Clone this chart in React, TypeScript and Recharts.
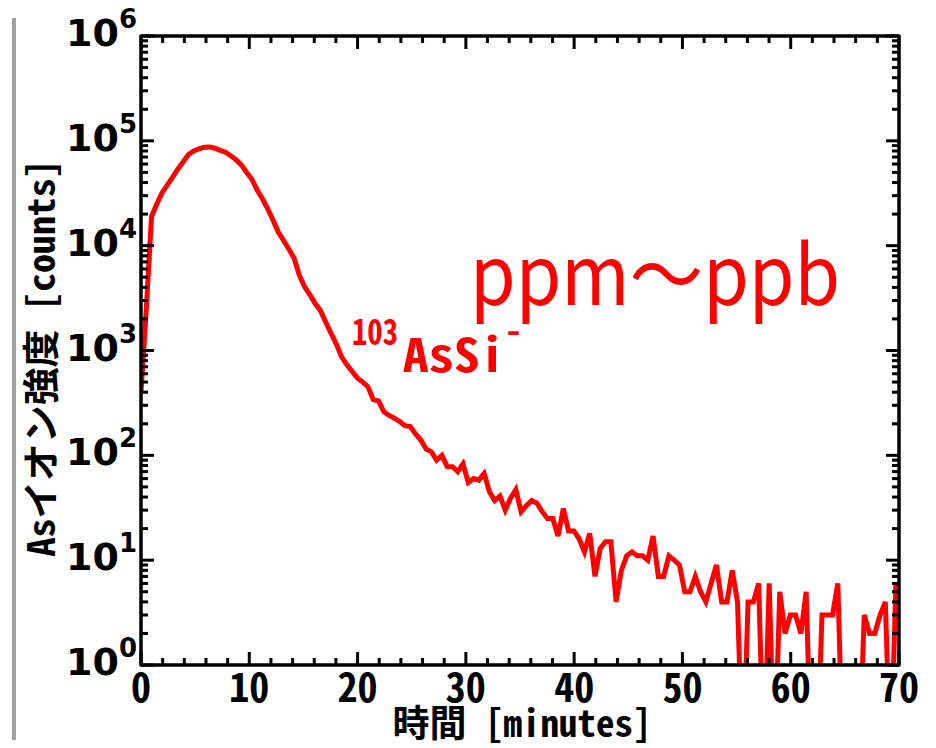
import React from 'react';
import { LineChart, Line, XAxis, YAxis } from 'recharts';

// sampling interval of the detector, in minutes
const STEP_MIN = 0.4875;

// 103AsSi- counts per sample (0 = no counts)
const counts = [
  400, 2500, 19000, 25000, 32000, 38000, 45000, 54000, 63000, 74000,
  80000, 84000, 87000, 87500, 85000, 81000, 78000, 72000, 66000, 59000,
  50000, 43000, 34000, 28000, 22400, 17600, 13500, 11200, 9300, 7600,
  5200, 4050, 3400, 2800, 2400, 1860, 1460, 1150, 870, 730,
  630, 545, 500, 450, 340, 330, 260, 240, 226, 210,
  192, 188, 160, 140, 115, 108, 90, 100, 78, 78,
  70, 83, 55, 60, 58, 67, 45, 37, 41, 30,
  39, 47, 29, 33, 37, 35, 29, 25, 25, 17,
  31, 19, 19, 16, 12, 18, 7, 13, 15, 15,
  4, 8, 11, 12, 11, 11, 10, 17, 7, 7,
  11, 10, 9, 5, 5, 7, 5, 4, 6, 9,
  4, 4, 8, 4, 0, 4, 4, 6, 0, 6,
  0, 5, 2, 3, 3, 2, 5, 0, 0, 3,
  3, 3, 6, 0, 0, 0, 0, 3, 2, 2,
  3, 4, 0, 6,
];

const xTicks = [0, 2, 4, 6, 8, 10, 12, 14, 16, 18, 20, 22, 24, 26, 28, 30, 32, 34, 36, 38, 40, 42, 44, 46, 48, 50, 52, 54, 56, 58, 60, 62, 64, 66, 68, 70];
const xLabels = [0, 10, 20, 30, 40, 50, 60, 70];
const yTicks = [
  1, 2, 3, 4, 5, 6, 7, 8, 9,
  10, 20, 30, 40, 50, 60, 70, 80, 90,
  100, 200, 300, 400, 500, 600, 700, 800, 900,
  1000, 2000, 3000, 4000, 5000, 6000, 7000, 8000, 9000,
  10000, 20000, 30000, 40000, 50000, 60000, 70000, 80000, 90000,
  100000, 200000, 300000, 400000, 500000, 600000, 700000, 800000, 900000,
  1000000,
];
const yDecades = [1, 10, 100, 1000, 10000, 100000, 1000000];

// log axis can't show 0, so zero counts drop below the frame and get clipped
const data = counts.map((c, i) => ({ t: i * STEP_MIN, c: c > 0 ? c : 0.1 }));

const MONO = '"Noto Sans Mono CJK JP", "DejaVu Sans Mono", "Noto Sans CJK JP", monospace';
const BIG = 13;
const SMALL = 7;

// plot frame in page pixels
const LEFT = 141;
const RIGHT = 899;
const TOP = 36;
const BOTTOM = 665;

const BottomTick = (props: any) => {
  const { x, payload } = props;
  const v = payload.value;
  const major = xLabels.includes(v);
  return (
    <g>
      <line x1={x} x2={x} y1={BOTTOM} y2={BOTTOM - (major ? BIG : SMALL)} stroke="#000" strokeWidth={3} />
      {major && (
        <text x={x} y={BOTTOM + 37} textAnchor="middle" fontFamily={MONO} fontWeight="bold" fontSize={40} fill="#000">
          {v}
        </text>
      )}
    </g>
  );
};

const TopTick = (props: any) => {
  const { x, payload } = props;
  const major = xLabels.includes(payload.value);
  return <line x1={x} x2={x} y1={TOP} y2={TOP + (major ? BIG : SMALL)} stroke="#000" strokeWidth={3} />;
};

const LeftTick = (props: any) => {
  const { y, payload } = props;
  const v = payload.value;
  const major = yDecades.includes(v);
  return (
    <g>
      <line x1={LEFT} x2={LEFT + (major ? BIG : SMALL)} y1={y} y2={y} stroke="#000" strokeWidth={3} />
      {major && (
        <text x={LEFT - 4} y={y + 10} textAnchor="end" fontFamily="DejaVu Sans" fontWeight="bold" fill="#000">
          <tspan fontSize={38}>10</tspan>
          <tspan fontSize={26} dy={-18}>{Math.round(Math.log10(v))}</tspan>
        </text>
      )}
    </g>
  );
};

const RightTick = (props: any) => {
  const { y, payload } = props;
  const major = yDecades.includes(payload.value);
  return <line x1={RIGHT} x2={RIGHT - (major ? BIG : SMALL)} y1={y} y2={y} stroke="#000" strokeWidth={3} />;
};

const axisLine = { stroke: '#000', strokeWidth: 3 };

export default function App() {
  return (
    <div style={{ position: 'absolute', left: 0, top: 0, width: 936, height: 748, background: '#fff' }}>
      <div style={{ position: 'absolute', left: 12, top: 18, width: 4, height: 722, background: '#a0a0a0' }} />
      <LineChart
        width={936}
        height={748}
        data={data}
        margin={{ top: TOP - 1, right: 936 - RIGHT - 1, bottom: 0, left: LEFT - 100 }}
      >
        <XAxis
          dataKey="t"
          type="number"
          domain={[0, 70]}
          allowDataOverflow
          ticks={xTicks}
          interval={0}
          tickSize={0}
          tickMargin={0}
          tick={<BottomTick />}
          axisLine={axisLine}
          height={748 - BOTTOM}
        />
        <XAxis
          xAxisId="top"
          orientation="top"
          dataKey="t"
          type="number"
          domain={[0, 70]}
          allowDataOverflow
          ticks={xTicks}
          interval={0}
          tickSize={0}
          tickMargin={0}
          tick={<TopTick />}
          axisLine={axisLine}
          height={1}
        />
        <YAxis
          scale="log"
          type="number"
          domain={[1, 1000000]}
          allowDataOverflow
          ticks={yTicks}
          interval={0}
          tickSize={0}
          tickMargin={0}
          tick={<LeftTick />}
          axisLine={axisLine}
          width={100}
        />
        <YAxis
          yAxisId="r"
          orientation="right"
          scale="log"
          type="number"
          domain={[1, 1000000]}
          allowDataOverflow
          ticks={yTicks}
          interval={0}
          tickSize={0}
          tickMargin={0}
          tick={<RightTick />}
          axisLine={axisLine}
          width={1}
        />
        <Line type="linear" dataKey="c" stroke="#ff0000" strokeWidth={5} dot={false} isAnimationActive={false} />
      </LineChart>
      <svg width={936} height={748} style={{ position: 'absolute', left: 0, top: 0, pointerEvents: 'none' }}>
        <rect x={LEFT} y={TOP} width={RIGHT - LEFT} height={BOTTOM - TOP} fill="none" stroke="#000" strokeWidth={3} />
        <text
          transform="translate(55, 358) rotate(-90)"
          textAnchor="middle"
          fontFamily={MONO}
          fontWeight="bold"
          fontSize={37}
          textLength={397}
          lengthAdjust="spacingAndGlyphs"
          fill="#000"
        >
          Asイオン強度 [counts]
        </text>
        <text x={522} y={737} textAnchor="middle" fontFamily={MONO} fontWeight="bold" fontSize={37} textLength={259} lengthAdjust="spacingAndGlyphs" fill="#000">
          時間 [minutes]
        </text>
        <text x={470} y={305} fontFamily='"Noto Sans CJK JP", sans-serif' fontSize={82} textLength={370} lengthAdjust="spacingAndGlyphs" fill="#ff0000">
          ppm～ppb
        </text>
        <text x={352} y={345} fontFamily={MONO} fontWeight="bold" fontSize={36} textLength={46} lengthAdjust="spacingAndGlyphs" fill="#ff0000">
          103
        </text>
        <text x={403} y={372} fontFamily={MONO} fontWeight="bold" fontSize={46} textLength={102} lengthAdjust="spacingAndGlyphs" fill="#ff0000">
          AsSi
        </text>
        <text x={505} y={343} fontFamily={MONO} fontWeight="bold" fontSize={34} fill="#ff0000">
          -
        </text>
      </svg>
    </div>
  );
}
